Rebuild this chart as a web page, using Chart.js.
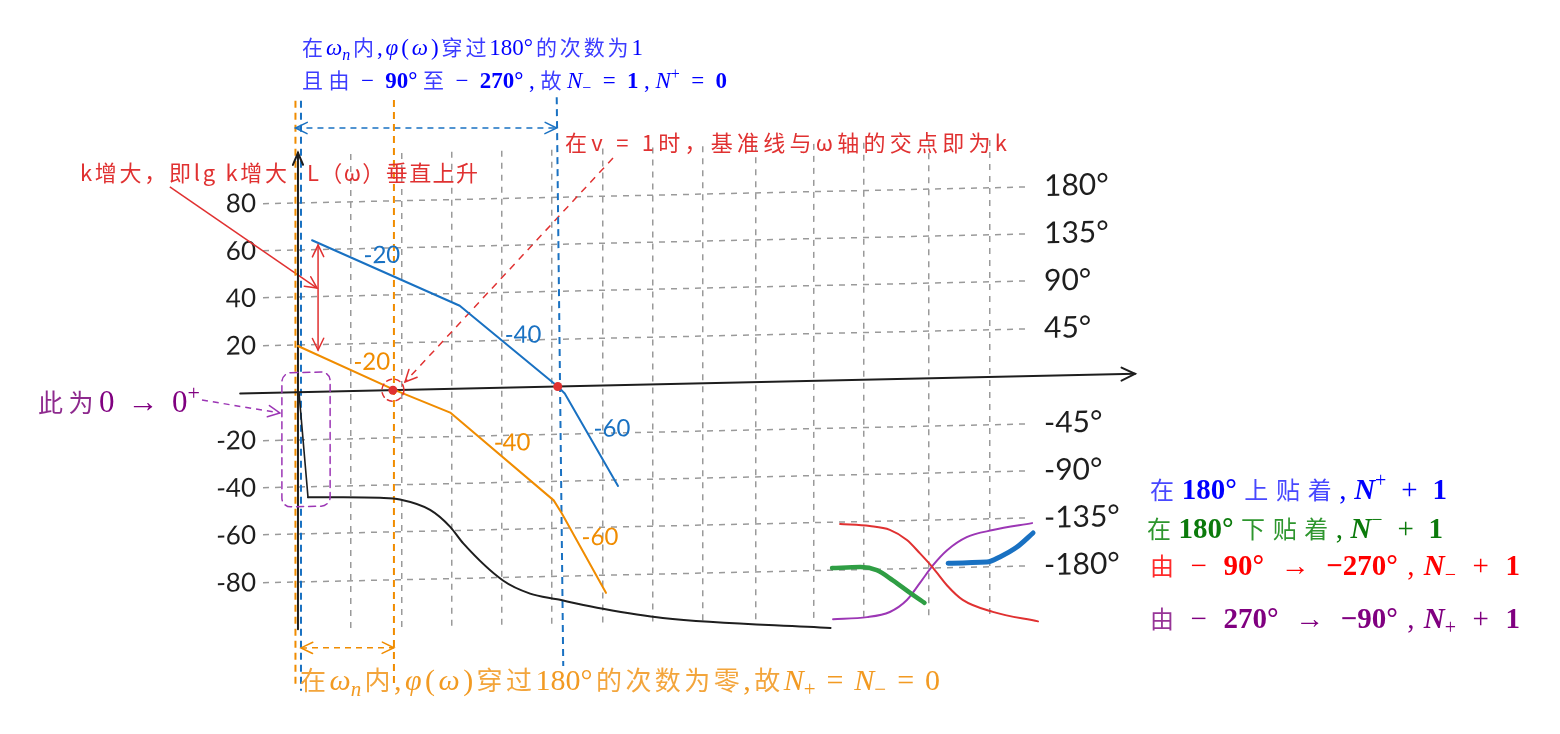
<!DOCTYPE html>
<html>
<head>
<meta charset="utf-8">
<script src="https://cdn.jsdelivr.net/npm/chart.js@4.4.1/dist/chart.umd.min.js"></script>
<style>
html, body { margin: 0; padding: 0; background: #fff; }
#wrap { position: relative; width: 1560px; height: 734px; }
</style>
</head>
<body>
<div id="wrap"><canvas id="bode"></canvas></div>
<script>
// lg ω grid columns (one unit is about half a decade), dB and degree ticks
const omegaGrid = [1, 2, 3, 4, 5, 6, 7, 8, 9.05, 10.2, 11.2, 12.5, 13.7];
const dbTicks = [-80, -60, -40, -20, 20, 40, 60, 80];
const degTicks = [-180, -135, -90, -45, 45, 90, 135, 180];

// L(ω) asymptotes: larger K (blue) and smaller K (orange)
const blueU = [0.22, 3.16, 5.11, 5.25, 6.31];
const blueDb = [64, 35, 0, -3, -42.5];
const orangeU = [-0.06, 1.87, 2.97, 5.03, 5.19, 6.07];
const orangeDb = [19.5, 0, -10, -48, -53.5, -87.5];

// φ(ω): the 0 -> 0+ jump, then the phase curve
const jumpU = [-0.04, 0.14];
const jumpDeg = [0, -100];
const phaseU = [0.14, 1.57, 1.97, 2.57, 2.97, 3.23, 4.02, 4.56, 5.1, 6.01, 7.2, 10.54];
const phaseDeg = [-100, -102, -104, -114.5, -131, -147, -183, -196, -202, -212, -222, -235];

// crossing sketches near -180°
const redU = [10.73, 11.32, 11.72, 12.06, 12.32, 12.58, 12.86, 13.17, 13.77, 14.67];
const redDeg = [-136.5, -139, -143, -153, -166, -180, -197, -211, -223, -233];
const purpleU = [10.59, 11.27, 11.72, 12.06, 12.32, 12.58, 12.86, 13.25, 13.77, 14.55];
const purpleDeg = [-226.6, -225.4, -221, -210, -194, -177.4, -163.5, -151.5, -145.4, -139.6];
const greenU = [10.57, 11.12, 11.46, 11.78, 12.13, 12.41];
const greenDeg = [-178, -177.7, -181, -191, -203.5, -213];
const riseU = [12.88, 13.65, 13.91, 14.25, 14.57];
const riseDeg = [-176, -175.6, -171, -162, -149];

// slope labels on the asymptotes
const slopeText = ['-20', '-40', '-60', '-20', '-40', '-60'];
const slopeU = [1.61, 4.42, 6.19, 1.41, 4.2, 5.95];
const slopeDb = [57, 22, -18.4, 12, -23.4, -64];

const INK = '#1e1e1e', GRID = '#9a9a9a';
const BLUE = '#1971c2', ORANGE = '#f08c00', RED = '#e03131', PURPLE = '#9c36b5', GREEN = '#2f9e44';
const slopeColor = [BLUE, BLUE, BLUE, ORANGE, ORANGE, ORANGE];

const SKEW = 0.022;   // the sketch's grid rises slightly to the right
const SKEW_X0 = 263;

// dashed guides and arrows, in (lg ω, dB)
const guides = [
  { pts: [[-0.11, 123], [-0.11, -125]], color: ORANGE, dash: [7, 5] },
  { pts: [[1.85, 122.4], [1.85, -123.6]], color: ORANGE, dash: [7, 5] },
  { pts: [[0.0, 123], [0.0, -126]], color: BLUE, dash: [7, 5] },
  { pts: [[5.09, 122.1], [5.22, -118]], color: BLUE, dash: [7, 5] },
  { pts: [[-0.11, 111.5], [5.09, 109.1]], color: BLUE, dash: [6, 5], heads: 2, w: 1.5 },
  { pts: [[0.0, -107.9], [1.85, -108.7]], color: ORANGE, dash: [6, 5], heads: 2, w: 1.5 },
  { pts: [[-2.61, 87.8], [0.32, 43.8]], color: RED, heads: 1, w: 1.5 },
  { pts: [[0.34, 61.9], [0.34, 17.6]], color: RED, heads: 2, w: 1.5 },
  { pts: [[6.21, 95.9], [2.07, 3.3]], color: RED, dash: [7, 6], heads: 1, w: 1.5 },
  { pts: [[-1.97, -2.4], [-0.42, -8.6]], color: PURPLE, dash: [6, 5], heads: 1, w: 1.5 }
];

function series(xs, ys, color, width, axis, smooth) {
  return {
    data: xs.map((x, i) => ({ x: x, y: ys[i] })),
    borderColor: color,
    borderWidth: width,
    yAxisID: axis,
    showLine: true,
    pointRadius: 0,
    fill: false,
    clip: false,
    tension: smooth ? 0.4 : 0,
    cubicInterpolationMode: smooth ? 'monotone' : 'default',
    borderCapStyle: 'round',
    borderJoinStyle: 'round'
  };
}

const datasets = [
  series(blueU, blueDb, BLUE, 2, 'y', false),
  series(orangeU, orangeDb, ORANGE, 2, 'y', false),
  series(jumpU, jumpDeg, INK, 1.6, 'y2', false),
  series(phaseU, phaseDeg, INK, 2, 'y2', true),
  series(greenU, greenDeg, GREEN, 4.5, 'y2', true),
  series(riseU, riseDeg, BLUE, 5, 'y2', true),
  series(redU, redDeg, RED, 2, 'y2', true),
  series(purpleU, purpleDeg, PURPLE, 2, 'y2', true),
  series([-1.21, 16.6], [0, 0], INK, 2, 'y', false),
  series([-0.06, -0.06], [-100, 101], INK, 2, 'y', false)
];
guides.forEach(g => {
  const d = series(g.pts.map(p => p[0]), g.pts.map(p => p[1]), g.color, g.w || 2, 'y', false);
  d.borderDash = g.dash || [];
  d.borderCapStyle = 'butt';
  datasets.push(d);
});

function head(ctx, tip, from, len, spread) {
  const a = Math.atan2(tip.y - from.y, tip.x - from.x);
  ctx.beginPath();
  ctx.moveTo(tip.x - len * Math.cos(a - spread), tip.y - len * Math.sin(a - spread));
  ctx.lineTo(tip.x, tip.y);
  ctx.lineTo(tip.x - len * Math.cos(a + spread), tip.y - len * Math.sin(a + spread));
  ctx.stroke();
}

// rich text: [style, text] pieces spread to a target width
// (CJK characters are spaced one by one, math pieces stay whole, scripts hug their base)
const CJK = '"Noto Sans CJK SC", sans-serif';
const SERIF = '"Liberation Serif", "DejaVu Serif", serif';
const isScript = st => st === 'sub' || st === 'sup' || st === 'subi';
function fontFor(st, cs, ms) {
  if (st === 'c') return `${cs}px ${CJK}`;
  if (st === 'r') return `${ms}px ${SERIF}`;
  if (st === 'b') return `bold ${ms}px ${SERIF}`;
  if (st === 'i') return `italic ${ms}px ${SERIF}`;
  if (st === 'bi') return `italic bold ${ms}px ${SERIF}`;
  if (st === 'subi') return `italic ${Math.round(ms * 0.7)}px ${SERIF}`;
  return `${Math.round(ms * 0.7)}px ${SERIF}`;
}
function drawRich(ctx, L) {
  const units = [];
  let nat = 0, gaps = 0;
  L.segs.forEach(([st, txt]) => {
    ctx.font = fontFor(st, L.cs, L.ms);
    const parts = st === 'c' ? Array.from(txt) : [txt];
    parts.forEach(t => {
      const cw = ctx.measureText(t).width;
      if (units.length && !isScript(st)) gaps++;
      units.push({ st, t, cw });
      nat += cw;
    });
  });
  const gap = (L.w - nat) / Math.max(1, gaps);
  let cx = L.x;
  ctx.textAlign = 'left';
  ctx.textBaseline = 'alphabetic';
  units.forEach((g, i) => {
    if (i > 0 && !isScript(g.st)) cx += gap;
    ctx.font = fontFor(g.st, L.cs, L.ms);
    ctx.fillStyle = g.st === 'c' ? (L.cjk || L.color) : L.color;
    let dy = 0;
    if (g.st === 'sub' || g.st === 'subi') dy = L.ms * 0.2;
    if (g.st === 'sup') dy = -L.ms * 0.4;
    ctx.fillText(g.t, cx, L.y + dy);
    cx += g.cw;
  });
}

const notes = [
  { x: 302, y: 55, w: 341, cs: 21, ms: 23, color: '#0000ff', cjk: '#3c3cff', segs: [
    ['c', '在'], ['i', 'ω'], ['subi', 'n'], ['c', '内'], ['r', ','], ['i', 'φ'], ['r', '('], ['i', 'ω'], ['r', ')'],
    ['c', '穿过'], ['r', '180°'], ['c', '的次数为'], ['r', '1']] },
  { x: 302, y: 88, w: 425, cs: 21, ms: 23, color: '#0000ff', cjk: '#3c3cff', segs: [
    ['c', '且由'], ['r', ' − '], ['b', '90°'], ['c', '至'], ['r', ' − '], ['b', '270°'], ['r', ','],
    ['c', '故'], ['i', 'N'], ['sub', '−'], ['r', ' = '], ['b', '1'], ['r', ','], ['i', 'N'], ['sup', '+'], ['r', ' = '], ['b', '0']] },
  { x: 1150, y: 499, w: 297, cs: 24, ms: 29, color: '#0000ff', cjk: '#4848ff', segs: [
    ['c', '在'], ['b', '180°'], ['c', '上贴着'], ['r', ','], ['bi', 'N'], ['sup', '+'], ['r', ' + '], ['b', '1']] },
  { x: 1147, y: 538, w: 296, cs: 24, ms: 29, color: '#0b7a0b', cjk: '#2e962e', segs: [
    ['c', '在'], ['b', '180°'], ['c', '下贴着'], ['r', ','], ['bi', 'N'], ['sup', '−'], ['r', ' + '], ['b', '1']] },
  { x: 1150, y: 575, w: 370, cs: 24, ms: 29, color: '#ff0000', cjk: '#ff2a2a', segs: [
    ['c', '由'], ['r', ' − '], ['b', '90°'], ['r', ' → '], ['b', '−270°'], ['r', ','],
    ['bi', 'N'], ['sub', '−'], ['r', ' + '], ['b', '1']] },
  { x: 1150, y: 628, w: 370, cs: 24, ms: 29, color: '#800080', cjk: '#973597', segs: [
    ['c', '由'], ['r', ' − '], ['b', '270°'], ['r', ' → '], ['b', '−90°'], ['r', ','],
    ['bi', 'N'], ['sub', '+'], ['r', ' + '], ['b', '1']] },
  { x: 300, y: 690, w: 640, cs: 26, ms: 30, color: '#f29a22', cjk: '#f3a53c', segs: [
    ['c', '在'], ['i', 'ω'], ['subi', 'n'], ['c', '内'], ['r', ','], ['i', 'φ'], ['r', '('], ['i', 'ω'], ['r', ')'],
    ['c', '穿过'], ['r', '180°'], ['c', '的次数为零'], ['r', ','], ['c', '故'],
    ['i', 'N'], ['sub', '+'], ['r', ' = '], ['i', 'N'], ['sub', '−'], ['r', ' = '], ['r', '0']] },
  { x: 38, y: 412, w: 162, cs: 25, ms: 31, color: '#800080', cjk: '#8e2a8e', segs: [
    ['c', '此为'], ['r', '0'], ['r', ' → '], ['r', '0'], ['sup', '+']] },
  { x: 80, y: 181, w: 207, cs: 22, ms: 22, color: RED, segs: [['c', 'k增大，即lg k增大']] },
  { x: 307, y: 181, w: 171, cs: 22, ms: 22, color: RED, segs: [['c', 'L（ω）垂直上升']] },
  { x: 565, y: 151, w: 442, cs: 22, ms: 22, color: RED, segs: [['c', '在v = 1时，基准线与ω轴的交点即为k']] }
];

const sketch = {
  id: 'sketch',
  beforeDraw(chart) {
    const ctx = chart.ctx;
    ctx.save();
    ctx.transform(1, -SKEW, 0, 1, 0, SKEW * SKEW_X0);
  },
  afterDatasetsDraw(chart) {
    const ctx = chart.ctx;
    const sx = chart.scales.x, sy = chart.scales.y;
    const P = (u, v) => ({ x: sx.getPixelForValue(u), y: sy.getPixelForValue(v) });
    ctx.save();
    ctx.setLineDash([]);
    ctx.lineCap = 'round';
    guides.forEach(g => {
      if (!g.heads) return;
      ctx.strokeStyle = g.color;
      ctx.lineWidth = g.w || 2;
      const a = P(g.pts[0][0], g.pts[0][1]), b = P(g.pts[1][0], g.pts[1][1]);
      head(ctx, b, a, 13, 0.45);
      if (g.heads === 2) head(ctx, a, b, 13, 0.45);
    });
    // axis arrows
    ctx.strokeStyle = INK;
    ctx.lineWidth = 2;
    head(ctx, P(16.6, 0), P(15, 0), 15, 0.45);
    head(ctx, P(-0.06, 101), P(-0.06, 90), 13, 0.4);
    // crossover points
    ctx.fillStyle = RED;
    [[1.83, 0], [5.11, 0]].forEach(([u, v]) => {
      const p = P(u, v);
      ctx.beginPath();
      ctx.arc(p.x, p.y, 4.5, 0, Math.PI * 2);
      ctx.fill();
    });
    const c = P(1.83, 0);
    ctx.strokeStyle = RED;
    ctx.lineWidth = 1.5;
    ctx.setLineDash([5, 4]);
    ctx.beginPath();
    ctx.arc(c.x, c.y, 11, 0, Math.PI * 2);
    ctx.stroke();
    // the 0 -> 0+ box
    const r1 = P(-0.38, 8.3), r2 = P(0.58, -48.3);
    ctx.strokeStyle = PURPLE;
    ctx.setLineDash([7, 5]);
    ctx.beginPath();
    ctx.roundRect(r1.x, r1.y, r2.x - r1.x, r2.y - r1.y, 9);
    ctx.stroke();
    // slope labels
    ctx.setLineDash([]);
    ctx.font = '24px Lato, "Noto Sans", sans-serif';
    ctx.textAlign = 'center';
    ctx.textBaseline = 'middle';
    slopeText.forEach((t, i) => {
      const p = P(slopeU[i], slopeDb[i]);
      ctx.fillStyle = slopeColor[i];
      ctx.fillText(t, p.x, p.y);
    });
    ctx.restore();
  },
  afterDraw(chart) {
    const ctx = chart.ctx;
    ctx.restore();
    ctx.save();
    notes.forEach(L => drawRich(ctx, L));
    ctx.restore();
  }
};

new Chart(document.getElementById('bode'), {
  type: 'scatter',
  data: { datasets: datasets },
  options: {
    responsive: true,
    maintainAspectRatio: false,
    animation: false,
    events: [],
    layout: { padding: { top: 156, bottom: 0, left: 0, right: 0 } },
    plugins: { legend: { display: false }, tooltip: { enabled: false } },
    scales: {
      x: {
        type: 'linear',
        min: -0.756,
        max: 14.45,
        afterBuildTicks: s => { s.ticks = omegaGrid.map(v => ({ value: v })); },
        afterFit: s => { s.height = 104; },
        grid: { color: GRID, lineWidth: 1.5, drawTicks: false },
        border: { display: false, dash: [6, 6] },
        ticks: { display: false }
      },
      y: {
        position: 'left',
        min: -100,
        max: 100,
        afterBuildTicks: s => { s.ticks = dbTicks.map(v => ({ value: v })); },
        afterFit: s => { s.width = 263; },
        grid: { color: GRID, lineWidth: 1.5, drawTicks: false },
        border: { display: false, dash: [6, 6] },
        ticks: { color: INK, padding: 7, font: { family: 'Lato, "Noto Sans", sans-serif', size: 26 } }
      },
      y2: {
        position: 'right',
        min: -225,
        max: 225,
        afterBuildTicks: s => { s.ticks = degTicks.map(v => ({ value: v })); },
        afterFit: s => { s.width = 533; },
        grid: { display: false },
        border: { display: false },
        ticks: { color: INK, padding: 9, font: { family: 'Lato, "Noto Sans", sans-serif', size: 30 },
          callback: v => v + '°' }
      }
    }
  },
  plugins: [sketch]
});
</script>
</body>
</html>
